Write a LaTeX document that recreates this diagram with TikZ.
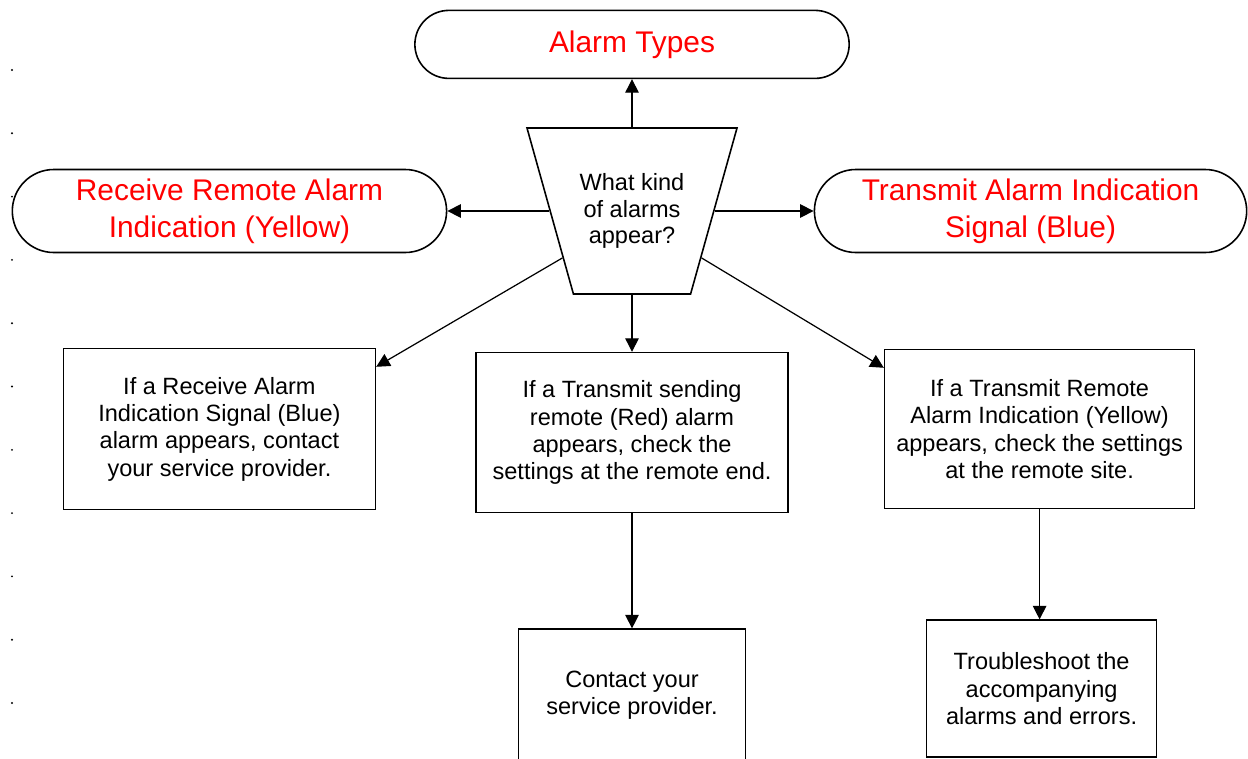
\documentclass[tikz,border=0pt]{standalone}
\usepackage{fontspec}
\setmainfont{Liberation Sans}
\usepackage{tikz}
\usetikzlibrary{positioning, arrows.meta, shapes.geometric, shapes.misc}

\begin{document}
\begin{tikzpicture}[
  auto,
  box/.style={draw, line width=0.9pt, rectangle, align=center, font=\fontsize{13.4}{15.5}\selectfont},
  term/.style={draw, line width=0.9pt, rounded rectangle, align=center, text=red, font=\fontsize{17}{21}\selectfont},
  arr/.style={-{Triangle[length=0.27cm, width=0.27cm]}, line width=0.7pt}
]
  \useasboundingbox (0,0) rectangle (24.96,-15.18);

  % Margin dots
  \foreach \k in {0,...,10}
    \fill (0.24,-1.4-1.266*\k) circle (0.6pt);

  % Question
  \node[draw, line width=0.9pt, trapezium, shape border rotate=180, trapezium stretches body=true,
        trapezium angle=74.35, inner ysep=0.9cm, minimum width=4.2cm, minimum height=3.32cm, align=center,
        font=\fontsize{13.4}{15.3}\selectfont] (question) at (12.64,-4.22) {
    What kind\\of alarms\\appear?
  };

  % Alarm types
  \node[term, minimum width=8.92cm, minimum height=1.36cm, above=0.96cm of question] (types) {Alarm Types};
  \node[term, minimum width=8.92cm, minimum height=1.66cm, left=2.04cm of question] (rxremote) {
    Receive Remote Alarm\\Indication (Yellow)
  };
  \node[term, minimum width=8.88cm, minimum height=1.66cm, right=1.98cm of question] (txsignal) {
    Transmit Alarm Indication\\Signal (Blue)
  };

  % Actions
  \node[box, minimum width=6.24cm, minimum height=3.2cm, below=1.14cm of question] (txsending) {
    If a Transmit sending\\remote (Red) alarm\\appears, check the\\settings at the remote end.
  };
  \node[box, minimum width=6.24cm, minimum height=3.22cm, left=1.98cm of txsending, yshift=0.07cm] (rxsignal) {
    If a Receive Alarm\\Indication Signal (Blue)\\alarm appears, contact\\your service provider.
  };
  \node[box, minimum width=6.2cm, minimum height=3.18cm, right=1.9cm of txsending, yshift=0.07cm] (txremote) {
    If a Transmit Remote\\Alarm Indication (Yellow)\\appears, check the settings\\at the remote site.
  };
  \node[box, minimum width=4.54cm, below=2.3cm of txsending] (contact) {
    \rule{0pt}{1.04cm}Contact your\\service provider.\rule[-2cm]{0pt}{0pt}
  };
  \node[box, minimum width=4.6cm, minimum height=2.74cm, below=2.2cm of txremote, xshift=0.04cm] (trouble) {
    Troubleshoot the\\accompanying\\alarms and errors.
  };

  % Relationships
  \draw[arr] (question.north) -- (types.south);
  \draw[arr] (question.west) -- (rxremote.east);
  \draw[arr] (question.east) -- (txsignal.west);
  \draw[arr] (question.214) -- ([yshift=-0.38cm]rxsignal.north east);
  \draw[arr] (question.south) -- (txsending.north);
  \draw[arr] (question.-34) -- ([yshift=-0.38cm]txremote.north west);
  \draw[arr] (txsending.south) -- (txsending.south |- contact.north);
  \draw[arr] (txremote.south) -- (txremote.south |- trouble.north);
\end{tikzpicture}
\end{document}
